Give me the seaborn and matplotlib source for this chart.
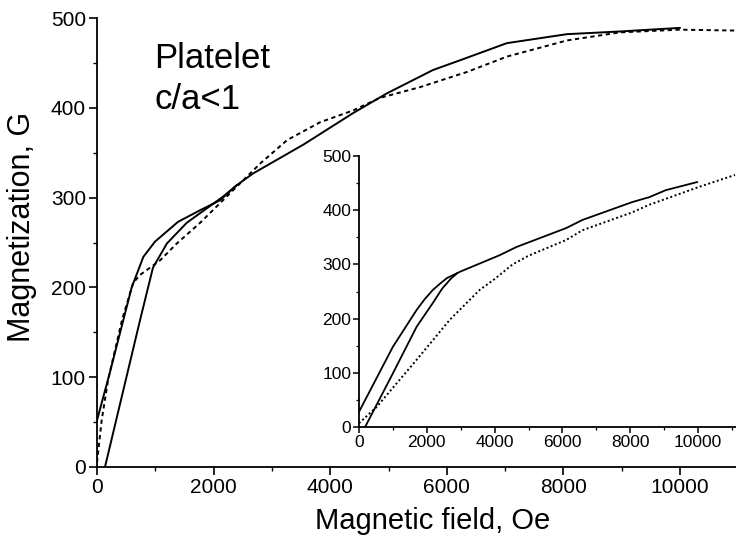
import numpy as np
import pandas as pd
import matplotlib
matplotlib.use("Agg")
import matplotlib.pyplot as plt
from matplotlib.ticker import MultipleLocator
import seaborn as sns

# ---- main panel data (field in Oe, magnetization in G) ----
main_upper_x = [0, 220, 595, 795, 995, 1390, 1770, 2110, 2400, 2680, 3540, 4390, 4970, 5760, 6230, 7030, 8060, 8970, 10000]
main_upper_m = [52, 105, 200, 234, 251, 273, 286, 297, 314, 327, 359, 394, 416, 442, 453, 472, 482, 485, 489]

main_lower_x = [137, 740, 960, 1200, 1540, 2160, 2400]
main_lower_m = [0, 164, 222, 249, 272, 301, 314]

main_dash_x = [0, 80, 190, 430, 620, 740, 1080, 1370, 1770, 2160, 2800, 3260, 3830, 4390, 4850, 5540, 6350, 7030, 8060, 8970, 10000, 10960]
main_dash_m = [5, 52, 97, 164, 205, 214, 230, 249, 272, 297, 338, 364, 384, 397, 411, 423, 440, 457, 475, 484, 487, 486]

# ---- inset data ----
ins_upper_x = [0, 1000, 1700, 1940, 2180, 2400, 2600, 2800, 3000, 4150, 4640, 6110, 6590, 8060, 8560, 9050, 9980]
ins_upper_m = [28, 148, 216, 236, 253, 265, 275, 281, 287, 317, 332, 367, 382, 415, 424, 437, 452]

ins_lower_x = [180, 1000, 1700, 2180, 2450, 2700, 2900]
ins_lower_m = [0, 99, 185, 229, 255, 273, 284]

ins_dot_x = [0, 520, 1700, 2680, 3560, 3960, 4530, 5000, 6110, 6590, 8060, 8560, 10030, 11090]
ins_dot_m = [7, 37, 124, 198, 253, 271, 300, 316, 345, 363, 396, 410, 443, 465]

main_xticks = [0, 2000, 4000, 6000, 8000, 10000]
main_yticks = [0, 100, 200, 300, 400, 500]
annotation = "Platelet\nc/a<1"
xlabel = "Magnetic field, Oe"
ylabel = "Magnetization, G"

sns.set_style("ticks")
plt.rcParams['font.family'] = ['Liberation Sans', 'DejaVu Sans']
plt.rcParams['text.color'] = 'black'
plt.rcParams['axes.labelcolor'] = 'black'
plt.rcParams['xtick.color'] = 'black'
plt.rcParams['ytick.color'] = 'black'

fig = plt.figure(figsize=(7.36, 5.35), dpi=100)
W, H = 736, 535

def frame(px_left, px_bottom, px_right, px_top):
    return [px_left / W, 1 - px_bottom / H, (px_right - px_left) / W, (px_bottom - px_top) / H]

ax = fig.add_axes(frame(97, 467, 736, 18))
ins = fig.add_axes(frame(359, 427, 736, 156))

def draw(axis, x, m, style, lw):
    df = pd.DataFrame({"x": x, "m": m})
    sns.lineplot(data=df, x="x", y="m", ax=axis, sort=False, estimator=None,
                 color="black", linewidth=lw, linestyle=style)

draw(ax, main_upper_x, main_upper_m, "-", 1.4)
draw(ax, main_lower_x, main_lower_m, "-", 1.4)
draw(ax, main_dash_x, main_dash_m, (0, (2.2, 1.8)), 1.4)

draw(ins, ins_upper_x, ins_upper_m, "-", 1.3)
draw(ins, ins_lower_x, ins_lower_m, "-", 1.3)
draw(ins, ins_dot_x, ins_dot_m, (0, (1, 1.3)), 1.4)

for a in (ax, ins):
    sns.despine(ax=a)
    a.set_facecolor("none")
    for s in ("left", "bottom"):
        a.spines[s].set_linewidth(1.3)
        a.spines[s].set_color("black")

ax.set_xlim(0, 10960)
ax.set_ylim(0, 500)
ax.set_xticks(main_xticks)
ax.set_yticks(main_yticks)
ax.xaxis.set_minor_locator(MultipleLocator(1000))
ax.yaxis.set_minor_locator(MultipleLocator(50))
ax.tick_params(which="major", direction="out", length=6, width=1.2, labelsize=15, pad=2, colors="black")
ax.tick_params(which="minor", direction="out", length=3, width=1.0)
ax.set_xlabel(xlabel, fontsize=21, color="black")
ax.set_ylabel(ylabel, fontsize=22, color="black")
ax.xaxis.set_label_coords(0.526, -0.088)
ax.yaxis.set_label_coords(-0.094, 0.535)

ax.text(980, 473, annotation, fontsize=25, va="top", ha="left", linespacing=1.3, color="black")

ins.set_xlim(0, 11120)
ins.set_ylim(0, 500)
ins.set_xticks(main_xticks)
ins.set_yticks(main_yticks)
ins.xaxis.set_minor_locator(MultipleLocator(1000))
ins.yaxis.set_minor_locator(MultipleLocator(50))
ins.tick_params(which="major", direction="out", length=4, width=1.1, labelsize=12.5, pad=1.5, colors="black")
ins.tick_params(which="minor", direction="out", length=2, width=0.9)
ins.set_xlabel("")
ins.set_ylabel("")

fig.savefig("out.png", dpi=100, facecolor="white")
